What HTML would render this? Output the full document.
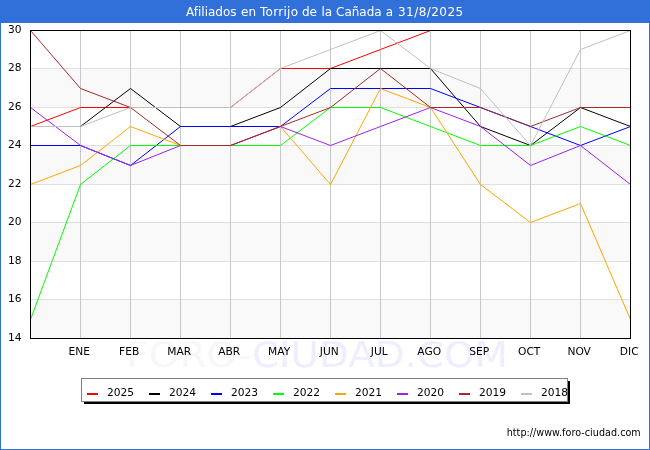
<!DOCTYPE html>
<html lang="es">
<head>
<meta charset="utf-8">
<title>Afiliados en Torrijo de la Cañada a 31/8/2025</title>
<style>
html,body{margin:0;padding:0;background:#fff;}
body{width:650px;height:450px;overflow:hidden;position:relative;font-family:"DejaVu Sans","Liberation Sans",sans-serif;}
#frame{position:absolute;left:0;top:0;width:648px;height:448px;border:1px solid #3070d8;background:#fff;}
#title{position:absolute;left:0;top:0;width:650px;height:23px;background:#3070d8;color:#fff;font-size:12px;line-height:23px;text-align:center;white-space:nowrap;}
svg{position:absolute;left:0;top:0;}
svg text{font-family:"DejaVu Sans","Liberation Sans",sans-serif;}
</style>
</head>
<body>
<div id="frame"></div>
<div id="title"></div>
<svg width="650" height="450" viewBox="0 0 650 450">
<text y="16" font-size="12px" fill="#fff"><tspan x="186">Afiliados </tspan><tspan x="241">en </tspan><tspan x="260" letter-spacing="0.3">Torrijo </tspan><tspan x="302">de </tspan><tspan x="321.5">la </tspan><tspan x="336">Cañada </tspan><tspan x="385.7">a </tspan><tspan x="398" letter-spacing="0.45">31/8/2025</tspan></text>
<g font-size="35.5px" transform="translate(126.5,366.5) scale(1.094,1)"><text x="0" y="0" fill="#f7f7f7" id="wm">FORO-<tspan fill="#eeeeff">CIUDAD.COM</tspan></text></g>
<g shape-rendering="crispEdges">
<rect x="30" y="30" width="600" height="308" fill="#ffffff"/>
<rect x="30" y="68" width="600" height="39" fill="#f9f9f9"/>
<rect x="30" y="146" width="600" height="38" fill="#f9f9f9"/>
<rect x="30" y="222" width="600" height="39" fill="#f9f9f9"/>
<rect x="30" y="300" width="600" height="38" fill="#f9f9f9"/>
<line x1="30" y1="68.5" x2="630" y2="68.5" stroke="#dfdfdf" stroke-width="1"/>
<line x1="30" y1="107.5" x2="630" y2="107.5" stroke="#dfdfdf" stroke-width="1"/>
<line x1="30" y1="145.5" x2="630" y2="145.5" stroke="#dfdfdf" stroke-width="1"/>
<line x1="30" y1="184.5" x2="630" y2="184.5" stroke="#dfdfdf" stroke-width="1"/>
<line x1="30" y1="222.5" x2="630" y2="222.5" stroke="#dfdfdf" stroke-width="1"/>
<line x1="30" y1="261.5" x2="630" y2="261.5" stroke="#dfdfdf" stroke-width="1"/>
<line x1="30" y1="299.5" x2="630" y2="299.5" stroke="#dfdfdf" stroke-width="1"/>
<line x1="80.5" y1="30" x2="80.5" y2="338" stroke="#c8c8c8" stroke-width="1"/>
<line x1="130.5" y1="30" x2="130.5" y2="338" stroke="#c8c8c8" stroke-width="1"/>
<line x1="180.5" y1="30" x2="180.5" y2="338" stroke="#c8c8c8" stroke-width="1"/>
<line x1="230.5" y1="30" x2="230.5" y2="338" stroke="#c8c8c8" stroke-width="1"/>
<line x1="280.5" y1="30" x2="280.5" y2="338" stroke="#c8c8c8" stroke-width="1"/>
<line x1="330.5" y1="30" x2="330.5" y2="338" stroke="#c8c8c8" stroke-width="1"/>
<line x1="380.5" y1="30" x2="380.5" y2="338" stroke="#c8c8c8" stroke-width="1"/>
<line x1="430.5" y1="30" x2="430.5" y2="338" stroke="#c8c8c8" stroke-width="1"/>
<line x1="480.5" y1="30" x2="480.5" y2="338" stroke="#c8c8c8" stroke-width="1"/>
<line x1="530.5" y1="30" x2="530.5" y2="338" stroke="#c8c8c8" stroke-width="1"/>
<line x1="580.5" y1="30" x2="580.5" y2="338" stroke="#c8c8c8" stroke-width="1"/>
</g>
<g fill="none" stroke-width="1" stroke-linejoin="round">
<polyline points="30.5,126.5 80.5,107.5 130.5,107.5 180.5,107.5 230.5,107.5 280.5,68.5 330.5,68.5 380.5,49.5 430.5,30.5" stroke="#ff0000"/>
<polyline points="30.5,126.5 80.5,126.5 130.5,88.5 180.5,126.5 230.5,126.5 280.5,107.5 330.5,68.5 380.5,68.5 430.5,68.5 480.5,126.5 530.5,145.5 580.5,107.5 630.5,126.5" stroke="#000000"/>
<polyline points="30.5,145.5 80.5,145.5 130.5,165.5 180.5,126.5 230.5,126.5 280.5,126.5 330.5,88.5 380.5,88.5 430.5,88.5 480.5,107.5 530.5,126.5 580.5,145.5 630.5,126.5" stroke="#0000ff"/>
<polyline points="30.5,319.5 80.5,184.5 130.5,145.5 180.5,145.5 230.5,145.5 280.5,145.5 330.5,107.5 380.5,107.5 430.5,126.5 480.5,145.5 530.5,145.5 580.5,126.5 630.5,145.5" stroke="#00ff00"/>
<polyline points="30.5,184.5 80.5,165.5 130.5,126.5 180.5,145.5 230.5,145.5 280.5,126.5 330.5,184.5 380.5,88.5 430.5,107.5 480.5,184.5 530.5,222.5 580.5,203.5 630.5,319.5" stroke="#ffa500"/>
<polyline points="30.5,107.5 80.5,145.5 130.5,165.5 180.5,145.5 230.5,145.5 280.5,126.5 330.5,145.5 380.5,126.5 430.5,107.5 480.5,126.5 530.5,165.5 580.5,145.5 630.5,184.5" stroke="#a020f0"/>
<polyline points="30.5,30.5 80.5,88.5 130.5,107.5 180.5,145.5 230.5,145.5 280.5,126.5 330.5,107.5 380.5,68.5 430.5,107.5 480.5,107.5 530.5,126.5 580.5,107.5 630.5,107.5" stroke="#a52a2a"/>
<polyline points="30.5,126.5 80.5,126.5 130.5,107.5 180.5,107.5 230.5,107.5 280.5,68.5 330.5,49.5 380.5,30.5 430.5,68.5 480.5,88.5 530.5,145.5 580.5,49.5 630.5,30.5" stroke="#c0c0c0"/>
</g>
<rect x="30.5" y="30.5" width="600" height="308" fill="none" stroke="#000" stroke-width="1" shape-rendering="crispEdges"/>
<g font-size="10.67px" fill="#000" text-anchor="end">
<text x="21.5" y="32.5">30</text>
<text x="21.5" y="71.0">28</text>
<text x="21.5" y="109.5">26</text>
<text x="21.5" y="148.0">24</text>
<text x="21.5" y="186.5">22</text>
<text x="21.5" y="225.0">20</text>
<text x="21.5" y="263.5">18</text>
<text x="21.5" y="302.0">16</text>
<text x="21.5" y="340.5">14</text>
</g>
<g font-size="10.67px" fill="#000" text-anchor="middle">
<text x="79.2" y="355">ENE</text>
<text x="129.2" y="355">FEB</text>
<text x="179.2" y="355">MAR</text>
<text x="229.2" y="355">ABR</text>
<text x="279.2" y="355">MAY</text>
<text x="329.2" y="355">JUN</text>
<text x="379.2" y="355">JUL</text>
<text x="429.2" y="355">AGO</text>
<text x="479.2" y="355">SEP</text>
<text x="529.2" y="355">OCT</text>
<text x="579.2" y="355">NOV</text>
<text x="629.2" y="355">DIC</text>
</g>
<g shape-rendering="crispEdges">
<rect x="84" y="381" width="486" height="23" fill="#000"/>
<rect x="81.5" y="378.5" width="486" height="23" fill="#fff" stroke="#808080" stroke-width="1"/>
<rect x="87" y="393" width="11" height="2" fill="#ff0000"/>
<rect x="149" y="393" width="11" height="2" fill="#000000"/>
<rect x="211" y="393" width="11" height="2" fill="#0000ff"/>
<rect x="273" y="393" width="11" height="2" fill="#00ff00"/>
<rect x="335" y="393" width="11" height="2" fill="#ffa500"/>
<rect x="397" y="393" width="11" height="2" fill="#a020f0"/>
<rect x="459" y="393" width="11" height="2" fill="#a52a2a"/>
<rect x="521" y="393" width="11" height="2" fill="#c0c0c0"/>
</g>
<g font-size="10.67px" fill="#000">
<text x="107" y="396">2025</text>
<text x="169" y="396">2024</text>
<text x="231" y="396">2023</text>
<text x="293" y="396">2022</text>
<text x="355" y="396">2021</text>
<text x="417" y="396">2020</text>
<text x="479" y="396">2019</text>
<text x="541" y="396">2018</text>
</g>
<text x="506.7" y="436" font-size="10.67px" fill="#000" letter-spacing="0.04" style="font-family:'DejaVu Sans Condensed','DejaVu Sans','Liberation Sans',sans-serif;font-stretch:condensed">http://www.foro-ciudad.com</text>
</svg>
</body>
</html>
